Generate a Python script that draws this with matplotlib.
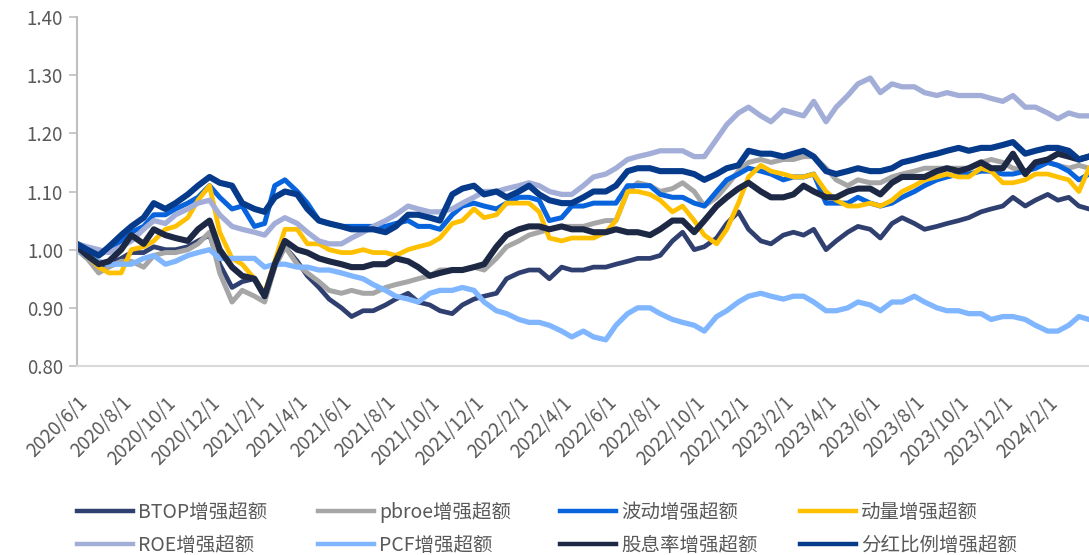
import matplotlib
matplotlib.use("Agg")
import matplotlib.pyplot as plt
import matplotlib.dates as mdates
from matplotlib.ticker import FuncFormatter
import pandas as pd

plt.rcParams["font.family"] = ["Noto Sans CJK SC", "DejaVu Sans"]

# semi-monthly observation dates (1st / 15th) plus last trading day shown
dates = list(pd.date_range("2020-06-01", "2024-03-15", freq="SMS")) + [pd.Timestamp("2024-03-29")]

btop = [1.00, 0.985, 0.97, 0.975, 0.985, 0.995, 0.995, 1.005, 1.00, 1.00,
        1.005, 1.015, 1.025, 0.975, 0.935, 0.945, 0.95, 0.92, 0.97, 1.005,
        0.98, 0.955, 0.935, 0.915, 0.90, 0.885, 0.895, 0.895, 0.905, 0.915,
        0.925, 0.91, 0.905, 0.895, 0.89, 0.905, 0.915, 0.92, 0.925, 0.95,
        0.96, 0.965, 0.965, 0.95, 0.97, 0.965, 0.965, 0.97, 0.97, 0.975,
        0.98, 0.985, 0.985, 0.99, 1.015, 1.03, 1.00, 1.005, 1.02, 1.045,
        1.065, 1.035, 1.015, 1.01, 1.025, 1.03, 1.025, 1.035, 1.00, 1.015,
        1.03, 1.04, 1.035, 1.02, 1.045, 1.055, 1.045, 1.035, 1.04, 1.045,
        1.05, 1.055, 1.065, 1.07, 1.075, 1.09, 1.075, 1.085, 1.095, 1.085,
        1.09, 1.075, 1.07]

pbroe = [1.00, 0.985, 0.96, 0.97, 0.98, 0.98, 0.97, 0.99, 0.995, 0.995,
         1.00, 1.01, 1.03, 0.96, 0.91, 0.93, 0.92, 0.91, 0.97, 1.005,
         0.975, 0.96, 0.945, 0.93, 0.925, 0.93, 0.925, 0.925, 0.935, 0.94,
         0.945, 0.95, 0.955, 0.965, 0.965, 0.965, 0.97, 0.965, 0.985, 1.005,
         1.015, 1.025, 1.03, 1.035, 1.04, 1.04, 1.04, 1.045, 1.05, 1.05,
         1.10, 1.115, 1.11, 1.10, 1.105, 1.115, 1.10, 1.075, 1.09, 1.11,
         1.135, 1.15, 1.155, 1.15, 1.155, 1.155, 1.16, 1.16, 1.14, 1.12,
         1.11, 1.12, 1.115, 1.115, 1.125, 1.13, 1.135, 1.14, 1.14, 1.14,
         1.14, 1.14, 1.15, 1.155, 1.15, 1.14, 1.135, 1.14, 1.15, 1.145,
         1.14, 1.145, 1.14]

vol = [1.00, 0.995, 0.99, 1.00, 1.015, 1.03, 1.04, 1.06, 1.06, 1.07,
       1.08, 1.09, 1.11, 1.09, 1.07, 1.075, 1.04, 1.045, 1.11, 1.12,
       1.10, 1.08, 1.05, 1.045, 1.04, 1.04, 1.04, 1.04, 1.04, 1.045,
       1.05, 1.04, 1.04, 1.035, 1.06, 1.075, 1.08, 1.075, 1.07, 1.08,
       1.09, 1.09, 1.085, 1.05, 1.055, 1.075, 1.075, 1.08, 1.08, 1.08,
       1.11, 1.11, 1.11, 1.095, 1.09, 1.09, 1.08, 1.075, 1.10, 1.12,
       1.13, 1.14, 1.135, 1.13, 1.12, 1.125, 1.125, 1.13, 1.08, 1.08,
       1.08, 1.09, 1.08, 1.075, 1.08, 1.09, 1.10, 1.11, 1.12, 1.125,
       1.13, 1.13, 1.135, 1.135, 1.13, 1.13, 1.135, 1.14, 1.15, 1.145,
       1.135, 1.12, 1.13]

momentum = [1.00, 0.99, 0.97, 0.96, 0.96, 1.00, 1.005, 1.015, 1.035, 1.04,
            1.055, 1.085, 1.11, 1.03, 0.985, 0.975, 0.95, 0.925, 0.98, 1.035,
            1.035, 1.01, 1.01, 1.00, 0.995, 0.995, 1.00, 0.995, 0.995, 0.99,
            1.00, 1.005, 1.01, 1.02, 1.045, 1.05, 1.07, 1.055, 1.06, 1.08,
            1.08, 1.08, 1.065, 1.02, 1.015, 1.02, 1.02, 1.02, 1.03, 1.05,
            1.10, 1.10, 1.095, 1.085, 1.065, 1.075, 1.05, 1.025, 1.01, 1.035,
            1.08, 1.125, 1.145, 1.135, 1.13, 1.125, 1.125, 1.13, 1.10, 1.085,
            1.075, 1.075, 1.08, 1.075, 1.085, 1.10, 1.11, 1.12, 1.125, 1.13,
            1.125, 1.125, 1.14, 1.135, 1.115, 1.115, 1.12, 1.13, 1.13, 1.125,
            1.12, 1.10, 1.14]

roe = [1.01, 1.005, 1.00, 0.995, 1.005, 1.015, 1.035, 1.05, 1.045, 1.06,
       1.07, 1.08, 1.085, 1.06, 1.04, 1.035, 1.03, 1.025, 1.045, 1.055,
       1.045, 1.03, 1.015, 1.01, 1.01, 1.02, 1.03, 1.04, 1.05, 1.06,
       1.075, 1.07, 1.065, 1.065, 1.07, 1.08, 1.09, 1.10, 1.10, 1.105,
       1.11, 1.115, 1.11, 1.10, 1.095, 1.095, 1.11, 1.125, 1.13, 1.14,
       1.155, 1.16, 1.165, 1.17, 1.17, 1.17, 1.16, 1.16, 1.19, 1.215,
       1.235, 1.245, 1.23, 1.22, 1.24, 1.235, 1.23, 1.255, 1.22, 1.245,
       1.265, 1.285, 1.295, 1.27, 1.285, 1.28, 1.28, 1.27, 1.265, 1.27,
       1.265, 1.265, 1.265, 1.26, 1.255, 1.265, 1.245, 1.245, 1.235, 1.225,
       1.235, 1.23, 1.23]

pcf = [1.00, 0.99, 0.98, 0.975, 0.975, 0.975, 0.985, 0.99, 0.975, 0.98,
       0.99, 0.995, 1.00, 0.985, 0.985, 0.985, 0.985, 0.97, 0.975, 0.975,
       0.97, 0.97, 0.965, 0.965, 0.96, 0.955, 0.95, 0.94, 0.93, 0.92,
       0.915, 0.91, 0.925, 0.93, 0.93, 0.935, 0.93, 0.91, 0.895, 0.89,
       0.88, 0.875, 0.875, 0.87, 0.86, 0.85, 0.86, 0.85, 0.845, 0.87,
       0.89, 0.90, 0.90, 0.89, 0.88, 0.875, 0.87, 0.86, 0.885, 0.895,
       0.91, 0.92, 0.925, 0.92, 0.915, 0.92, 0.92, 0.91, 0.895, 0.895,
       0.90, 0.91, 0.905, 0.895, 0.91, 0.91, 0.92, 0.91, 0.90, 0.895,
       0.895, 0.89, 0.89, 0.88, 0.885, 0.885, 0.88, 0.87, 0.86, 0.86,
       0.87, 0.885, 0.88]

div_yield = [1.005, 0.99, 0.975, 0.98, 1.00, 1.025, 1.01, 1.035, 1.025, 1.02,
             1.015, 1.035, 1.05, 1.00, 0.97, 0.955, 0.95, 0.92, 0.975, 1.015,
             1.00, 0.995, 0.985, 0.98, 0.975, 0.97, 0.97, 0.975, 0.975, 0.985,
             0.98, 0.97, 0.955, 0.96, 0.965, 0.965, 0.97, 0.975, 1.005, 1.025,
             1.035, 1.04, 1.04, 1.035, 1.04, 1.035, 1.035, 1.03, 1.03, 1.035,
             1.03, 1.03, 1.025, 1.035, 1.05, 1.05, 1.03, 1.05, 1.075, 1.09,
             1.105, 1.115, 1.10, 1.09, 1.09, 1.095, 1.11, 1.10, 1.09, 1.09,
             1.10, 1.105, 1.105, 1.095, 1.115, 1.125, 1.125, 1.125, 1.135, 1.14,
             1.135, 1.14, 1.15, 1.14, 1.14, 1.165, 1.13, 1.15, 1.155, 1.165,
             1.16, 1.155, 1.16]

payout = [1.01, 1.00, 0.99, 1.005, 1.025, 1.04, 1.055, 1.08, 1.07, 1.08,
          1.095, 1.11, 1.125, 1.115, 1.11, 1.08, 1.07, 1.065, 1.09, 1.10,
          1.095, 1.07, 1.05, 1.045, 1.04, 1.035, 1.035, 1.035, 1.03, 1.04,
          1.06, 1.06, 1.055, 1.05, 1.095, 1.105, 1.11, 1.095, 1.10, 1.09,
          1.10, 1.11, 1.095, 1.085, 1.08, 1.08, 1.09, 1.10, 1.10, 1.11,
          1.135, 1.14, 1.14, 1.135, 1.135, 1.135, 1.13, 1.12, 1.13, 1.14,
          1.145, 1.17, 1.165, 1.165, 1.16, 1.165, 1.17, 1.16, 1.135, 1.13,
          1.135, 1.14, 1.135, 1.135, 1.14, 1.15, 1.155, 1.16, 1.165, 1.17,
          1.175, 1.17, 1.175, 1.175, 1.18, 1.185, 1.165, 1.17, 1.175, 1.175,
          1.17, 1.155, 1.16]

labels = ["BTOP增强超额", "pbroe增强超额", "波动增强超额", "动量增强超额",
          "ROE增强超额", "PCF增强超额", "股息率增强超额", "分红比例增强超额"]
series = [btop, pbroe, vol, momentum, roe, pcf, div_yield, payout]
colors = ["#2F3F6F", "#A6A6A6", "#0864DC", "#FFC000",
          "#A2AED8", "#7FB6FF", "#1C2844", "#063A8A"]
widths = [3.4, 3.6, 3.6, 3.4, 3.8, 3.8, 4.4, 4.4]

fig = plt.figure(figsize=(10.89, 5.55), dpi=100)
ax = fig.add_axes([77 / 1089, 1 - 366 / 555, 1 - 77 / 1089, 349 / 555])

lines = []
for vals, lab, col, lw in zip(series, labels, colors, widths):
    ln, = ax.plot(dates, vals, color=col, lw=lw, label=lab, solid_joinstyle="round")
    lines.append(ln)

ax.set_ylim(0.80, 1.40)
ax.set_yticks([0.80, 0.90, 1.00, 1.10, 1.20, 1.30, 1.40])
ax.yaxis.set_major_formatter(FuncFormatter(lambda v, p: f"{v:.2f}"))
ax.set_xlim(pd.Timestamp("2020-06-01"), pd.Timestamp("2024-03-29"))
ax.xaxis.set_major_locator(mdates.MonthLocator(bymonth=[2, 4, 6, 8, 10, 12], bymonthday=1))
ax.xaxis.set_major_formatter(FuncFormatter(
    lambda v, p: (lambda d: f"{d.year}/{d.month}/{d.day}")(mdates.num2date(v))))

for s in ["top", "right"]:
    ax.spines[s].set_visible(False)
ax.spines["left"].set_color("#BFBFBF")
ax.spines["bottom"].set_color("#D9D9D9")
ax.spines["left"].set_linewidth(1.5)
ax.spines["bottom"].set_linewidth(1.5)
ax.tick_params(axis="y", length=6, width=1.2, color="#BFBFBF", labelsize=13.5,
               labelcolor="#595959", pad=4)
ax.tick_params(axis="x", length=0, labelsize=13.5, labelcolor="#595959", pad=19)
for t in ax.get_xticklabels():
    t.set_rotation(45)
    t.set_ha("right")
    t.set_va("top")
    t.set_rotation_mode("anchor")

# one small legend per column so the columns sit at fixed positions
col_x = [77, 318, 560, 800]
for j, x in enumerate(col_x):
    leg = fig.legend(handles=[lines[j], lines[j + 4]], loc="upper left",
                     bbox_to_anchor=(x / 1089, 1 - 502 / 555), frameon=False,
                     fontsize=14, handlelength=2.9, handletextpad=0.25,
                     labelspacing=0.6, borderpad=0, borderaxespad=0,
                     labelcolor="#595959")
    for h in leg.legend_handles:
        h.set_linewidth(3.2)

fig.savefig("out.png", dpi=100)
